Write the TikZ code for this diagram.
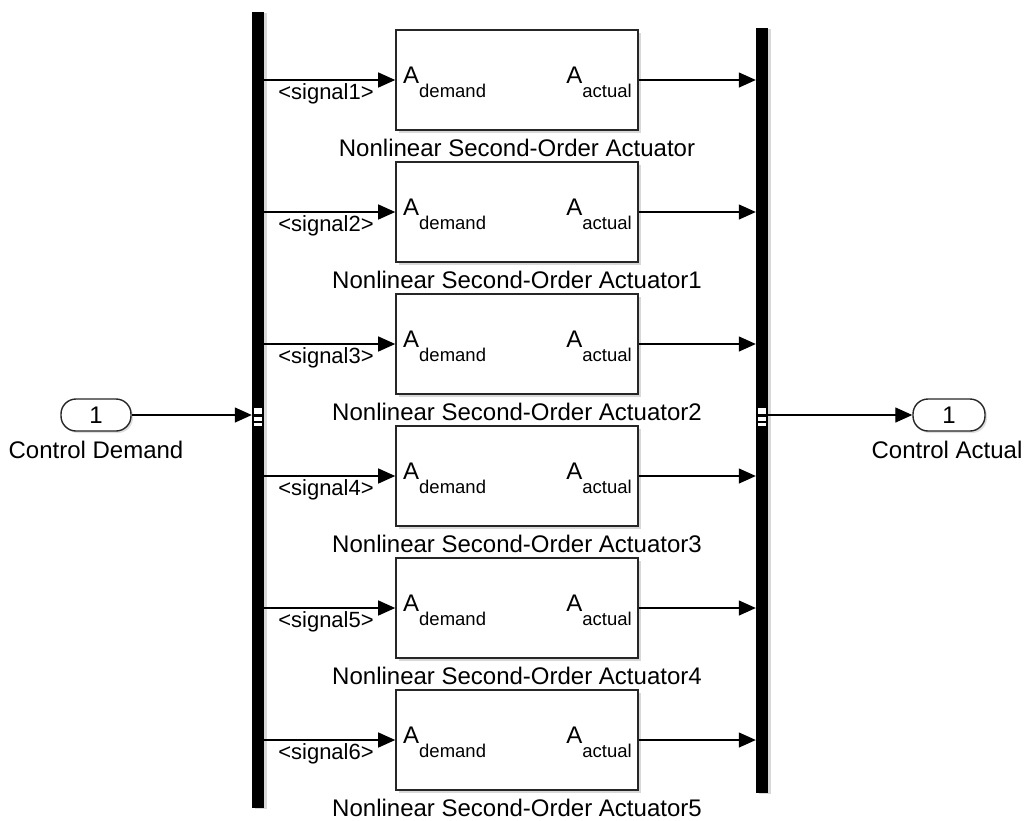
\documentclass[tikz,border=0pt]{standalone}
\usepackage{fontspec}
\setmainfont{Liberation Sans}
\usetikzlibrary{arrows.meta,shadows}
\newcommand{\mainsz}{\fontsize{24}{27}\selectfont}
\newcommand{\sigsz}{\fontsize{22}{25}\selectfont}
\newcommand{\subsz}{\fontsize{18.5}{21}\selectfont}
\begin{document}
\begin{tikzpicture}[x=1pt,y=-1pt,
  blk/.style={draw=black!85, line width=1.6pt, fill=white, minimum width=242pt,
    minimum height=100pt, inner sep=0pt,
    drop shadow={shadow xshift=2.5pt, shadow yshift=-2.5pt, fill=black!30}},
  busbar/.style={fill=black, draw=none, minimum width=12pt, inner sep=0pt,
    drop shadow={shadow xshift=2.5pt, shadow yshift=-1pt, fill=black!30}},
  port/.style={draw=black!85, line width=1.4pt, rounded corners=15pt, minimum width=70pt,
    minimum height=32pt, fill=white, font=\mainsz, inner sep=0pt,
    drop shadow={shadow xshift=2pt, shadow yshift=-2pt, fill=black!25}},
  conn/.style={line width=1.3pt, -{Triangle[length=17pt,width=15pt]}},
  blkname/.style={font=\mainsz, inner sep=0pt, anchor=base},
  sig/.style={font=\sigsz, inner sep=0pt, anchor=base},
  intext/.style={font=\mainsz, inner sep=0pt},
  marker/.style={fill=white, draw=none}
]
\useasboundingbox (0,0) rectangle (1025,820);

% bus bars
\node[busbar, minimum height=796pt] (lbar) at (258,410) {};
\node[busbar, minimum height=765pt] (rbar) at (762,410.5) {};

% port markers on bars
\fill[marker] (254,407.5) rectangle (262,414);
\fill[marker] (254,417) rectangle (262,420.5);
\fill[marker] (254,422.5) rectangle (262,425.5);
\fill[marker] (758,407.5) rectangle (766,414);
\fill[marker] (758,417) rectangle (766,420.5);
\fill[marker] (758,422.5) rectangle (766,425.5);

% inport / outport
\node[port] (inp) at (96,415) {1};
\node[font=\mainsz, inner sep=0pt] (inlbl) at (96,450) {Control Demand};
\node[port, minimum width=72pt] (outp) at (949,415) {1};
\node[font=\mainsz, inner sep=0pt] (outlbl) at (947,450) {Control Actual};

\draw[conn] (inp.east) -- (lbar.west |- inp.east);
\draw[conn] (rbar.east |- outp.west) -- (outp.west);

% actuator blocks
\foreach \i/\s in {1/,2/1,3/2,4/3,5/4,6/5}{
  \pgfmathsetmacro{\c}{80+132*(\i-1)}
  \node[blk] (b\i) at (517,\c) {};
  \node[intext, anchor=base west] (ad\i) at (403,\c+3) {A\raisebox{-14pt}{\subsz demand}};
  \node[intext, anchor=base east] (aa\i) at (632,\c+3) {A\raisebox{-14pt}{\subsz actual}};
  \node[blkname] (n\i) at (517,\c+76) {Nonlinear Second-Order Actuator\s};
  \draw[conn] (lbar.east |- b\i.west) -- (b\i.west);
  \node[sig] (s\i) at (326,\c+19) {<signal\i>};
  \draw[conn] (b\i.east) -- (rbar.west |- b\i.east);
}
\end{tikzpicture}
\end{document}
